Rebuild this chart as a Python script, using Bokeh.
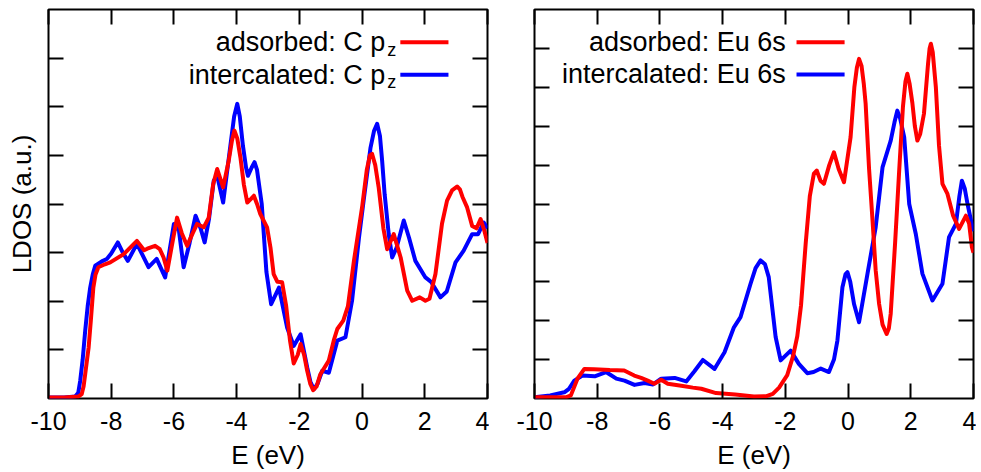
from bokeh.plotting import figure
from bokeh.layouts import row
from bokeh.models import Range1d, LinearAxis, FixedTicker, Label
from bokeh.embed import file_html
from bokeh.resources import INLINE

# ---------------- data ----------------
# Left panel: C p_z LDOS
c_ads_E = [-10, -9.5, -9.05, -8.94, -8.88, -8.83, -8.77, -8.72, -8.65, -8.57, -8.5, -8.41, -8.2, -8.03,
           -7.6, -7.18, -6.95, -6.85, -6.6, -6.45, -6.33, -6.21, -6.05, -5.9, -5.75, -5.58, -5.4, -5.26,
           -5.05, -4.89, -4.75, -4.62, -4.43, -4.25, -4.15, -4.07, -3.98, -3.88, -3.77, -3.66, -3.55,
           -3.45, -3.35, -3.25, -3.03, -2.92, -2.82, -2.7, -2.55, -2.42, -2.3, -2.18, -2.05, -1.96,
           -1.85, -1.75, -1.65, -1.56, -1.45, -1.33, -1.06, -0.9, -0.79, -0.6, -0.45, -0.26, 0.0,
           0.15, 0.25, 0.32, 0.42, 0.53, 0.68, 0.8, 1.01, 1.23, 1.44, 1.6, 1.84, 2.02, 2.15, 2.34,
           2.55, 2.71, 2.87, 3.03, 3.12, 3.2, 3.35, 3.51, 3.65, 3.78, 3.9, 4.0]
c_ads_ldos = [0.02, 0.02, 0.04, 0.09, 0.25, 0.5, 0.8, 1.05, 1.6, 2.28, 2.55, 2.7, 2.76, 2.8,
              2.97, 3.24, 3.05, 3.08, 3.14, 3.07, 2.9, 2.63, 3.2, 3.72, 3.4, 3.14, 3.4, 3.59,
              3.52, 3.72, 4.4, 4.72, 4.34, 4.9, 5.3, 5.51, 5.35, 4.96, 4.4, 4.03, 4.1,
              4.17, 4.0, 3.8, 3.52, 3.1, 2.56, 2.4, 2.39, 1.9, 1.2, 0.72, 0.9, 1.12,
              0.9, 0.57, 0.3, 0.17, 0.25, 0.5, 0.78, 1.2, 1.43, 1.6, 1.9, 2.83, 3.93,
              4.7, 5.0, 5.03, 4.8, 4.34, 3.5, 3.07, 3.38, 2.9, 2.22, 2.01, 2.08, 2.01, 2.05, 2.56,
              3.6, 4.07, 4.28, 4.36, 4.3, 4.15, 3.93, 3.55, 3.5, 3.69, 3.45, 3.2]
c_int_E = [-10, -9.5, -9.15, -9.05, -8.99, -8.91, -8.83, -8.75, -8.67, -8.59, -8.51, -8.3, -8.14, -8.0,
           -7.79, -7.63, -7.47, -7.18, -7.0, -6.81, -6.55, -6.28, -6.15, -6.0, -5.84, -5.69, -5.5, -5.31,
           -5.15, -5.02, -4.88, -4.73, -4.62, -4.43, -4.2, -4.08, -3.98, -3.9, -3.8, -3.7, -3.64, -3.52,
           -3.43, -3.35, -3.2, -3.05, -2.9, -2.65, -2.39, -2.18, -1.96, -1.75, -1.65, -1.54, -1.42, -1.27,
           -1.06, -0.79, -0.53, -0.32, -0.1, 0.05, 0.27, 0.38, 0.48, 0.57, 0.64, 0.72, 0.85,
           0.96, 1.1, 1.33, 1.5, 1.7, 2.02, 2.2, 2.5, 2.7, 2.98, 3.24, 3.51, 3.7, 3.88, 4.0]
c_int_ldos = [0.02, 0.02, 0.04, 0.12, 0.36, 0.8, 1.39, 1.9, 2.28, 2.55, 2.73, 2.82, 2.87, 2.98,
              3.21, 3.0, 2.83, 3.18, 2.95, 2.7, 2.87, 2.49, 3.0, 3.59, 3.45, 2.7, 3.2, 3.76,
              3.5, 3.21, 3.7, 4.48, 4.58, 4.03, 5.2, 5.8, 6.06, 5.8, 5.2, 4.75, 4.58, 4.75,
              4.86, 4.7, 4.0, 2.6, 1.94, 2.28, 1.46, 1.08, 1.32, 0.64, 0.35, 0.19, 0.3, 0.57,
              0.53, 1.19, 1.26, 2.01, 3.3, 4.07, 5.16, 5.5, 5.65, 5.4, 4.89, 4.2, 3.38,
              2.9, 3.1, 3.66, 3.3, 2.83, 2.49, 2.4, 2.08, 2.2, 2.8, 3.04, 3.38, 3.38, 3.62, 3.5]

# Right panel: Eu 6s LDOS
eu_ads_E = [-10, -9.0, -8.84, -8.63, -8.41, -8.1, -7.6, -7.14, -6.82, -6.6, -6.39, -6.18, -5.96, -5.75,
            -5.32, -4.95, -4.68, -4.21, -3.6, -3.0, -2.6, -2.4, -2.2, -1.94, -1.75, -1.62, -1.5, -1.35,
            -1.22, -1.09, -1.0, -0.88, -0.77, -0.6, -0.45, -0.3, -0.13, 0.08, 0.2, 0.28, 0.35, 0.43,
            0.5, 0.56, 0.67, 0.78, 0.88, 0.99, 1.1, 1.23, 1.3, 1.36, 1.5, 1.63, 1.75, 1.83, 1.89, 1.96,
            2.05, 2.13, 2.21, 2.3, 2.42, 2.55, 2.6, 2.64, 2.7, 2.8, 2.9, 3.01, 3.17, 3.35, 3.54,
            3.76, 3.86, 3.95, 4.0]
eu_ads_ldos = [0.03, 0.03, 0.08, 0.51, 0.76, 0.75, 0.73, 0.72, 0.59, 0.53, 0.46, 0.38, 0.48, 0.38,
               0.33, 0.28, 0.25, 0.14, 0.1, 0.05, 0.06, 0.12, 0.28, 0.6, 1.1, 1.6, 2.4, 4.0,
               5.2, 5.78, 5.86, 5.6, 5.52, 6.0, 6.33, 5.9, 5.56, 6.72, 8.0, 8.5, 8.73, 8.55,
               8.1, 7.58, 5.9, 4.58, 3.3, 2.43, 1.9, 1.66, 1.8, 2.18, 4.0, 5.86, 7.5, 8.15, 8.35, 8.1,
               7.6, 7.0, 6.63, 6.8, 7.32, 8.6, 9.0, 9.12, 8.9, 8.0, 6.5, 5.52, 5.26, 4.7, 4.36,
               4.7, 4.5, 3.89, 3.75]
eu_int_E = [-10, -9.5, -9.05, -8.9, -8.73, -8.47, -8.08, -7.72, -7.39, -7.13, -6.81, -6.49, -6.22, -5.96,
            -5.53, -5.16, -4.9, -4.63, -4.26, -3.94, -3.64, -3.43, -3.11, -2.95, -2.79, -2.65, -2.53,
            -2.31, -2.15, -1.83, -1.57, -1.3, -1.1, -0.87, -0.61, -0.45, -0.34, -0.18, -0.08, -0.02,
            0.07, 0.19, 0.35, 0.62, 0.88, 1.1, 1.36, 1.48, 1.57, 1.66, 1.79, 1.95, 2.16, 2.37, 2.69,
            3.01, 3.22, 3.44, 3.55, 3.63, 3.72, 3.81, 3.92, 4.0]
eu_int_ldos = [0.03, 0.08, 0.16, 0.25, 0.46, 0.59, 0.57, 0.68, 0.51, 0.46, 0.35, 0.40, 0.36, 0.51,
               0.53, 0.44, 0.7, 0.99, 0.76, 1.19, 1.83, 2.09, 2.95, 3.35, 3.55, 3.45, 3.12,
               1.58, 0.98, 1.23, 0.89, 0.65, 0.68, 0.77, 0.68, 1.0, 1.49, 2.86, 3.2, 3.25,
               3.0, 2.43, 1.96, 3.21, 4.4, 5.95, 6.63, 7.1, 7.4, 7.2, 6.72, 5.0, 4.23, 3.21, 2.52,
               2.95, 4.15, 4.49, 5.2, 5.6, 5.4, 5.0, 4.58, 4.3]

x_ticks = [-10, -8, -6, -4, -2, 0, 2, 4]
x_tick_labels = ["-10", "-8", "-6", "-4", "-2", "0", "2", "4"]
left_y_ticks = [1, 2, 3, 4, 5, 6, 7]
right_y_ticks = [1, 2, 3, 4, 5, 6, 7, 8, 9]

RED = "#ff0000"
BLUE = "#0000ff"
FONT = "Liberation Sans"


def style_axis(ax, ticks, show_labels):
    ax.ticker = FixedTicker(ticks=ticks)
    ax.axis_line_color = None
    ax.major_tick_in = 15
    ax.major_tick_out = 0
    ax.minor_tick_in = 0
    ax.minor_tick_out = 0
    ax.major_tick_line_width = 2
    ax.major_tick_line_color = "black"
    ax.major_label_text_font = FONT
    if show_labels:
        ax.major_label_text_color = "black"
        ax.major_label_text_font_size = "25px"
        ax.major_label_standoff = 13
        ax.major_label_overrides = {t: s for t, s in zip(x_ticks, x_tick_labels)}
    else:
        ax.major_label_text_color = None
        ax.major_label_text_font_size = "1px"
        ax.major_label_standoff = 0
    ax.axis_label_text_font = FONT
    ax.axis_label_text_font_size = "26px"
    ax.axis_label_text_font_style = "normal"
    ax.axis_label_text_color = "black"


def make_panel(b_left, b_right, ymax, yticks, ylabel, ads_E, ads_v, int_E, int_v,
               leg_text_x, leg_line_x0, leg_line_x1, leg_y_ads, leg_y_int, leg_labels, sub_x=None, sub_dy=0):
    p = figure(frame_width=439, frame_height=389, x_range=Range1d(-10, 4), y_range=Range1d(0, ymax),
               output_backend="svg", toolbar_location=None,
               min_border_left=b_left, min_border_right=b_right, min_border_top=9, min_border_bottom=60)
    p.grid.visible = False
    p.outline_line_color = "black"
    p.outline_line_width = 2
    p.outline_line_alpha = 1
    p.background_fill_color = "white"
    p.border_fill_color = "white"

    style_axis(p.xaxis[0], x_ticks, True)
    p.xaxis[0].axis_label = "E (eV)"
    p.xaxis[0].axis_label_standoff = 7
    style_axis(p.yaxis[0], yticks, False)
    if ylabel:
        p.yaxis[0].axis_label = ylabel
        p.yaxis[0].axis_label_standoff = 12

    top = LinearAxis()
    style_axis(top, x_ticks, False)
    p.add_layout(top, "above")
    right = LinearAxis()
    style_axis(right, yticks, False)
    p.add_layout(right, "right")

    p.line(int_E, int_v, line_color=BLUE, line_width=4, line_join="round")
    p.line(ads_E, ads_v, line_color=RED, line_width=4, line_join="round")

    # legend (gnuplot style: text first, then the line sample)
    for (txt, yv, col) in [(leg_labels[0], leg_y_ads, RED), (leg_labels[1], leg_y_int, BLUE)]:
        p.add_layout(Label(x=leg_text_x, y=yv, text=txt, text_align="right", text_baseline="middle",
                           text_font=FONT, text_font_size="27px", text_color="black"))
        if sub_x is not None:
            p.add_layout(Label(x=sub_x, y=yv - sub_dy, text="z", text_align="left", text_baseline="middle",
                               text_font=FONT, text_font_size="18px", text_color="black"))
        p.segment(x0=[leg_line_x0], y0=[yv], x1=[leg_line_x1], y1=[yv], line_color=col, line_width=4)
    return p


p1 = make_panel(48, 2, 8, left_y_ticks, "LDOS (a.u.)", c_ads_E, c_ads_ldos, c_int_E, c_int_ldos,
                leg_text_x=0.74, leg_line_x0=1.22, leg_line_x1=2.755, leg_y_ads=7.325, leg_y_int=6.66,
                leg_labels=["adsorbed: C p", "intercalated: C p"], sub_x=0.80, sub_dy=0.16)
p2 = make_panel(45, 3, 10, right_y_ticks, None, eu_ads_E, eu_ads_ldos, eu_int_E, eu_int_ldos,
                leg_text_x=-1.99, leg_line_x0=-1.644, leg_line_x1=-0.111, leg_y_ads=9.16, leg_y_int=8.33,
                leg_labels=["adsorbed: Eu 6s", "intercalated: Eu 6s"])

layout = row(p1, p2)
open("out.html", "w").write(file_html(layout, INLINE))
